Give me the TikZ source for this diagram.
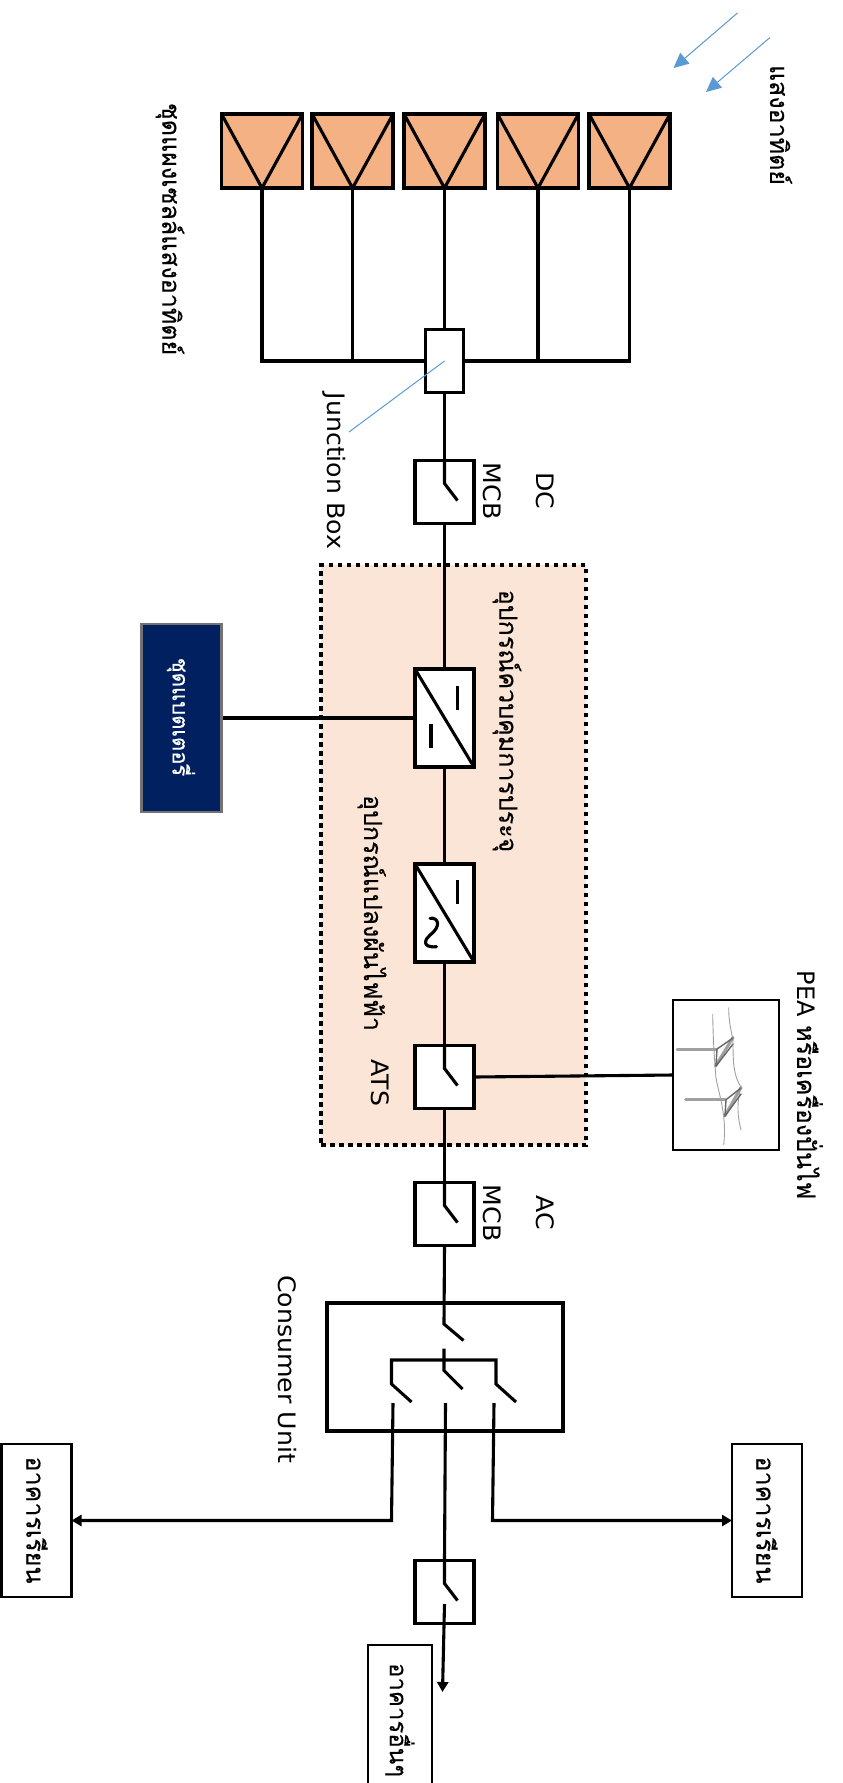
\documentclass[tikz,border=0pt]{standalone}
\usepackage{fontspec}
\setmainfont{DejaVu Sans}
\newfontfamily\thaifont[Script=Thai,FakeBold=0.3]{Loma}
\usetikzlibrary{arrows.meta}
\definecolor{panelfill}{HTML}{F4B183}
\definecolor{zonefill}{HTML}{FBE5D6}
\definecolor{navyfill}{HTML}{002060}
\definecolor{sunblue}{HTML}{5B9BD5}
\definecolor{wiregray}{HTML}{A0A0A0}
\tikzset{
  wire/.style={draw=black,line width=3.1pt},
  feed/.style={wire,-{Triangle[length=10pt,width=11pt]}},
  unit/.style={draw=black,fill=white,line width=3.2pt,inner sep=0pt,outer sep=0pt},
  panel/.style={draw=black,fill=panelfill,line width=3.4pt,inner sep=0pt,outer sep=0pt,minimum width=81pt,minimum height=74pt},
  zone/.style={draw=black,fill=zonefill,line width=4.5pt,dash pattern=on 4.5pt off 4.5pt,inner sep=0pt,minimum width=265pt,minimum height=580pt},
  building/.style={draw=black,fill=white,line width=2.2pt,inner sep=0pt,outer sep=0pt},
  latintext/.style={rotate=-90,xscale=1.05,inner sep=0pt,font=\fontsize{24}{28}\selectfont},
  thaitext/.style={rotate=-90,inner sep=0pt,font=\thaifont\fontsize{25}{30}\selectfont},
  batterytext/.style={rotate=-90,inner sep=0pt,text=white,font=\thaifont\fontsize{22}{26}\selectfont},
  sun/.style={draw=sunblue,line width=1pt},
  sunray/.style={sun,-{Triangle[length=15pt,width=14pt]}},
  pylon/.style={draw=wiregray,line width=3pt,line cap=round},
  strut/.style={draw=black!60,line width=1.4pt,line cap=round},
  cable/.style={draw=wiregray,line width=.9pt},
}
\begin{document}
\begin{tikzpicture}[x=1pt,y=-1pt]
\useasboundingbox[fill=white] (0,0) rectangle (843,1783);
% zone
\node[zone] (zone) at (453.5,855) {};
% panels
\foreach \n/\cx in {p1/262,p2/352.6,p3/444.5,p4/538,p5/629.5}{
  \node[panel] (\n) at (\cx,151) {};
  \draw[wire] (\n.north west) -- (\n.south) -- (\n.north east);
}
% units
\node[unit,minimum width=38.5pt,minimum height=63pt] (jb) at (444.5,361) {};
\node[unit,minimum width=59pt,minimum height=63pt] (mcbdc) at (444.5,492) {};
\node[unit,minimum width=59pt,minimum height=98pt] (conv) at (444.5,718) {};
\node[unit,minimum width=59pt,minimum height=98pt] (inv) at (444.5,913) {};
\node[unit,minimum width=59pt,minimum height=63pt] (ats) at (444.5,1077) {};
\node[unit,minimum width=59pt,minimum height=63pt] (mcbac) at (444.5,1214) {};
\node[unit,minimum width=236pt,minimum height=128pt] (cu) at (445,1367) {};
\node[unit,minimum width=59pt,minimum height=63pt] (brk) at (444.5,1592) {};
% battery and grid
\node[draw=black!55,fill=navyfill,line width=2.4pt,inner sep=0pt,minimum width=80pt,minimum height=188pt] (bat) at (181.5,718) {};
\node[draw=black,fill=white,line width=2.2pt,inner sep=0pt,outer sep=0pt,minimum width=106pt,minimum height=150pt] (pea) at (726,1075) {};
% buildings
\node[building,minimum width=70pt,minimum height=153pt] (bl) at (36.5,1520.5) {};
\node[building,minimum width=70pt,minimum height=153pt] (br) at (767,1520.5) {};
\node[building,minimum width=64pt,minimum height=160pt] (bb) at (400,1725) {};
% texts
\node[thaitext] (tsun) at (781,125) {แสงอาทิตย์};
\node[thaitext] (tarr) at (170,229) {ชุดแผงเซลล์แสงอาทิตย์};
\node[latintext] (tjb) at (334.5,471) {Junction Box};
\node[latintext] (tmcb1) at (492,491) {MCB};
\node[latintext] (tdc) at (545.5,491) {DC};
\node[thaitext] (tconv) at (507,721) {อุปกรณ์ควบคุมการประจุ};
\node[thaitext] (tinv) at (372,913) {อุปกรณ์แปลงผันไฟฟ้า};
\node[latintext] (tats) at (380,1083) {ATS};
\node[batterytext] (tbat) at (181,717) {ชุดแบตเตอรี่};
\node[thaitext] (tpea) at (810,1085) {{\fontspec{DejaVu Sans}\fontsize{24}{28}\selectfont PEA} หรือเครื่องปั่นไฟ};
\node[latintext] (tmcb2) at (492,1213) {MCB};
\node[latintext] (tac) at (545.5,1213) {AC};
\node[latintext] (tcu) at (287.5,1369) {Consumer Unit};
\node[thaitext] (tbl) at (37,1520) {อาคารเรียน};
\node[thaitext] (tbr) at (767,1520) {อาคารเรียน};
\node[thaitext,font=\thaifont\fontsize{24}{28}\selectfont] (tbb) at (400,1720) {อาคารอื่นๆ};
% bus from panels to junction box
\coordinate (busl) at (p1.south |- jb.center);
\coordinate (busr) at (p5.south |- jb.center);
\draw[wire] (p1.south) -- (busl) -- (jb.west |- busl);
\draw[wire] (p5.south) -- (busr) -- (jb.east |- busr);
\draw[wire] (p2.south) -- (p2.south |- jb.center);
\draw[wire] (p4.south) -- (p4.south |- jb.center);
\draw[wire] (p3.south) -- (jb.north);
% main line
\draw[wire] (jb.south) -- (mcbdc.north);
\draw[wire] (mcbdc.south) -- (conv.north);
\draw[wire] (conv.south) -- (inv.north);
\draw[wire] (inv.south) -- (ats.north);
\draw[wire] (ats.south) -- (mcbac.north);
\draw[wire] (conv.west) -- (bat.east);
\coordinate (atsr) at (ats.east);
\draw[wire] (atsr) -- (pea.west);
% switches in boxes
\foreach \b in {mcbdc,ats,mcbac,brk}{
  \coordinate (\b h) at ([yshift=-23pt]\b.north);
  \coordinate (\b t) at ([xshift=13pt,yshift=-40pt]\b.north);
  \draw[wire] (\b.north) -- (\b h) -- (\b t);
}
% converter symbols
\draw[wire] (conv.north west) -- (conv.south east);
\draw[wire] (inv.north west) -- (inv.south east);
\coordinate (c1a) at ([xshift=13pt,yshift=-17pt]conv.north);
\coordinate (c1b) at ([xshift=13pt,yshift=-41pt]conv.north);
\coordinate (c2a) at ([xshift=-13.5pt,yshift=-55pt]conv.north);
\coordinate (c2b) at ([xshift=-13.5pt,yshift=-79pt]conv.north);
\draw[wire] (c1a) -- (c1b);
\draw[wire] (c2a) -- (c2b);
\coordinate (i1a) at ([xshift=13pt,yshift=-16pt]inv.north);
\coordinate (i1b) at ([xshift=13pt,yshift=-40pt]inv.north);
\draw[wire] (i1a) -- (i1b);
\coordinate (ti1) at (430,918.3);
\coordinate (ti2) at (430,935);
\coordinate (ti3) at (436.5,946.7);
\draw[wire,line cap=round] (ti1) .. controls (438,917) and (442,926) .. (ti2)
   .. controls (425,939) and (421,948) .. (ti3);
% consumer unit switches
\coordinate (s0h) at (444,1324);
\coordinate (s0t) at (463.5,1340.5);
\draw[wire] (mcbac.south) -- (s0h) -- (s0t);
\coordinate (ctop) at (444,1348.5);
\coordinate (chead) at (444,1370.5);
\coordinate (ctip) at (462.5,1389);
\coordinate (lbar) at (391.5,1360);
\coordinate (rbar) at (496,1360);
\coordinate (lh) at (391.5,1384);
\coordinate (lt) at (411.5,1402);
\coordinate (rh) at (496,1384);
\coordinate (rt) at (516,1402);
\draw[wire] (ctop) -- (chead) -- (ctip);
\draw[wire] (lt) -- (lh) -- (lbar) -- (rbar) -- (rh) -- (rt);
% outgoing
\coordinate (lo) at (393,1403);
\coordinate (lc) at (391.5,1520.5);
\coordinate (ro) at (494,1403);
\coordinate (rc) at (492.5,1520.5);
\coordinate (co) at (445.5,1403);
\draw[feed] (lo) -- (lc) -- (bl.east |- lc);
\draw[feed] (ro) -- (rc) -- (br.west |- rc);
\draw[wire] (co) -- (brk.north);
\coordinate (bko) at (444.5,1604);
\coordinate (bke) at (442.5,1692);
\draw[feed] (bko) -- (bke);
% sun rays
\coordinate (r1a) at (737.5,13);
\coordinate (r1b) at (673.5,68);
\coordinate (r2a) at (770,37.5);
\coordinate (r2b) at (706,92);
\draw[sunray] (r1a) -- (r1b);
\draw[sunray] (r2a) -- (r2b);
\coordinate (jbl) at (349,432);
\draw[sun] (jbl) -- (jb.center);
% pylons
\draw[cable] (712.7,1014) .. controls (713,1035) and (714,1055) .. (716,1078) .. controls (719,1095) and (727,1115) .. (723.7,1145);
\draw[cable] (728.7,1007.3) .. controls (728.5,1020) and (731,1030) .. (733,1040) .. controls (733,1060) and (733,1075) .. (741,1087) .. controls (736,1105) and (738,1118) .. (741,1130);
\draw[pylon] (677,1049) -- (716,1049);
\draw[pylon] (733,1037.5) -- (715.5,1066);
\draw[strut] (717,1049) -- (733,1038);
\draw[strut] (717,1049) -- (716,1066);
\draw[strut] (716,1066) -- (733,1044);
\draw[pylon] (685.5,1099.7) -- (725,1099.7);
\draw[pylon] (741,1087.5) -- (724.7,1116);
\draw[strut] (726,1099.7) -- (741,1088);
\draw[strut] (726,1099.7) -- (725,1116);
\draw[strut] (725,1116) -- (741,1094);
\end{tikzpicture}
\end{document}
